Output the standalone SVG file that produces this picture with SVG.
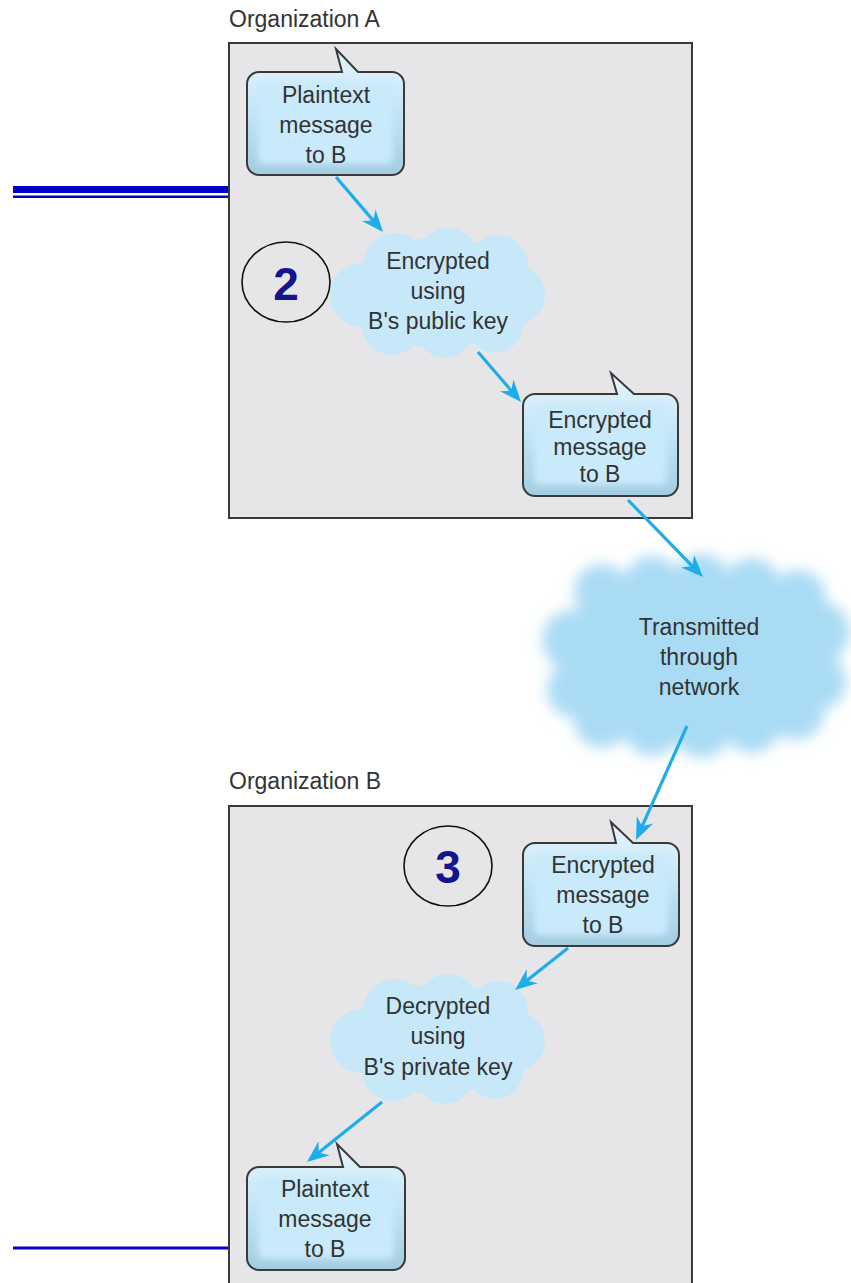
<svg xmlns="http://www.w3.org/2000/svg" width="851" height="1283" viewBox="0 0 851 1283">
<defs>
<style>
.lbl{font-family:"Liberation Sans",Arial,sans-serif;font-size:23px;fill:#333;text-anchor:middle}
.org{font-family:"Liberation Sans",Arial,sans-serif;font-size:23px;fill:#333}
.num{font-family:"Liberation Sans",Arial,sans-serif;font-size:46px;font-weight:bold;fill:#14148c;text-anchor:middle}
.box{fill:#e6e6e8;stroke:#3a3a3a;stroke-width:2}
.bub{fill:url(#bg);stroke:#3a3a3a;stroke-width:2}
.inner{fill:#c9eafa;filter:url(#soft)}
.cl{fill:#c6e8f9}
.arr{stroke:#1cadea;stroke-width:3.2;fill:none;marker-end:url(#ah)}
.num-e{fill:none;stroke:#111;stroke-width:1.6}
</style>
<linearGradient id="bg" x1="0" y1="0" x2="0" y2="1">
<stop offset="0" stop-color="#e6f6fd"/>
<stop offset="0.5" stop-color="#c2e5f6"/>
<stop offset="1" stop-color="#a3cce1"/>
</linearGradient>
<filter id="soft" x="-20%" y="-20%" width="140%" height="140%"><feGaussianBlur stdDeviation="3"/></filter>
<filter id="fuzz" x="-20%" y="-20%" width="140%" height="140%"><feGaussianBlur stdDeviation="7"/></filter>
<marker id="ah" markerUnits="userSpaceOnUse" markerWidth="40" markerHeight="40" viewBox="-20 -20 40 40" refX="0" refY="0" orient="auto">
<path d="M8,0 L-14,-9 L-7,0 L-14,9 Z" fill="#1cadea"/>
</marker>
<g id="cloud">
<ellipse cx="438" cy="293" rx="92" ry="55"/>
<circle cx="395" cy="265" r="32"/>
<circle cx="448" cy="258" r="30"/>
<circle cx="498" cy="265" r="30"/>
<circle cx="362" cy="295" r="32"/>
<circle cx="515" cy="295" r="30"/>
<circle cx="392" cy="325" r="30"/>
<circle cx="445" cy="330" r="28"/>
<circle cx="495" cy="325" r="28"/>
</g>
</defs>

<rect width="851" height="1283" fill="#fff"/>

<g id="decor">
<rect x="13" y="186" width="216" height="7" fill="#0000c8"/>
<rect x="13" y="195.5" width="216" height="2.5" fill="#0000c8"/>
<rect x="13" y="1246.5" width="216" height="3" fill="#0000c8"/>
</g>

<g id="orgA">
<text class="org" x="229" y="27">Organization A</text>
<rect class="box" x="229" y="43" width="463" height="475"/>
</g>

<g id="orgB">
<text class="org" x="229" y="789">Organization B</text>
<rect class="box" x="229" y="806" width="463" height="490"/>
</g>

<g id="step2">
<ellipse class="num-e" cx="286" cy="282" rx="44" ry="40"/>
<text class="num" x="286" y="300">2</text>
</g>

<g id="step3">
<ellipse class="num-e" cx="448" cy="866" rx="44" ry="40"/>
<text class="num" x="448" y="883">3</text>
</g>

<g id="plainA">
<path class="bub" d="M259,72 H342 L336,49 L358,72 H392 A12,12 0 0 1 404,84 V163 A12,12 0 0 1 392,175 H259 A12,12 0 0 1 247,163 V84 A12,12 0 0 1 259,72 Z"/>
<rect class="inner" x="258" y="82" width="135" height="82" rx="6"/>
<text class="lbl" x="326" y="103">Plaintext</text>
<text class="lbl" x="326" y="133">message</text>
<text class="lbl" x="326" y="163">to B</text>
</g>

<g id="encryptCloud">
<use href="#cloud" class="cl"/>
<text class="lbl" x="438" y="269">Encrypted</text>
<text class="lbl" x="438" y="299">using</text>
<text class="lbl" x="438" y="329">B's public key</text>
</g>

<g id="encA">
<path class="bub" d="M535,394 H617 L611,373 L634,394 H666 A12,12 0 0 1 678,406 V484 A12,12 0 0 1 666,496 H535 A12,12 0 0 1 523,484 V406 A12,12 0 0 1 535,394 Z"/>
<rect class="inner" x="534" y="404" width="133" height="81" rx="6"/>
<text class="lbl" x="600" y="428">Encrypted</text>
<text class="lbl" x="600" y="455">message</text>
<text class="lbl" x="600" y="482">to B</text>
</g>

<g id="network">
<g fill="#aadbf4" filter="url(#fuzz)">
<ellipse cx="697" cy="655" rx="140" ry="82"/>
<circle cx="602" cy="592" r="28"/>
<circle cx="652" cy="584" r="28"/>
<circle cx="702" cy="582" r="28"/>
<circle cx="752" cy="586" r="28"/>
<circle cx="798" cy="598" r="28"/>
<circle cx="602" cy="720" r="28"/>
<circle cx="652" cy="728" r="28"/>
<circle cx="702" cy="730" r="28"/>
<circle cx="752" cy="725" r="28"/>
<circle cx="796" cy="712" r="28"/>
<circle cx="572" cy="640" r="30"/>
<circle cx="575" cy="690" r="28"/>
<circle cx="820" cy="632" r="30"/>
<circle cx="818" cy="682" r="28"/>
</g>
<text class="lbl" x="699" y="635">Transmitted</text>
<text class="lbl" x="699" y="665">through</text>
<text class="lbl" x="699" y="695">network</text>
</g>

<g id="encB">
<path class="bub" d="M535,843 H616 L611,822 L633,843 H667 A12,12 0 0 1 679,855 V934 A12,12 0 0 1 667,946 H535 A12,12 0 0 1 523,934 V855 A12,12 0 0 1 535,843 Z"/>
<rect class="inner" x="534" y="853" width="134" height="82" rx="6"/>
<text class="lbl" x="603" y="873">Encrypted</text>
<text class="lbl" x="603" y="903">message</text>
<text class="lbl" x="603" y="933">to B</text>
</g>

<g id="decryptCloud">
<use href="#cloud" class="cl" transform="translate(0,746)"/>
<text class="lbl" x="438" y="1014">Decrypted</text>
<text class="lbl" x="438" y="1044">using</text>
<text class="lbl" x="438" y="1075">B's private key</text>
</g>

<g id="plainB">
<path class="bub" d="M259,1167 H343 L337,1144 L360,1167 H393 A12,12 0 0 1 405,1179 V1258 A12,12 0 0 1 393,1270 H259 A12,12 0 0 1 247,1258 V1179 A12,12 0 0 1 259,1167 Z"/>
<rect class="inner" x="258" y="1177" width="136" height="82" rx="6"/>
<text class="lbl" x="325" y="1197">Plaintext</text>
<text class="lbl" x="325" y="1227">message</text>
<text class="lbl" x="325" y="1257">to B</text>
</g>

<g id="connectors">
<line class="arr" x1="336" y1="177" x2="377.8" y2="225.9"/>
<line class="arr" x1="478" y1="352" x2="515.8" y2="395.9"/>
<line class="arr" x1="628" y1="500" x2="697.4" y2="571.3"/>
<line class="arr" x1="687" y1="726" x2="639.3" y2="832.7"/>
<line class="arr" x1="568" y1="948" x2="521.3" y2="985"/>
<line class="arr" x1="382" y1="1102" x2="313.2" y2="1157"/>
</g>
</svg>
